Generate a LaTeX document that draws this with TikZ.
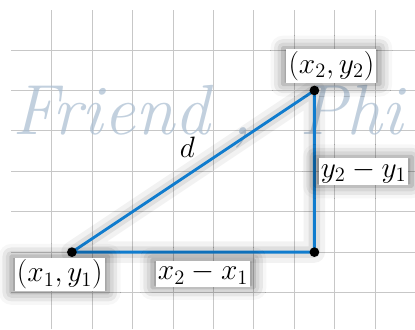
\documentclass[tikz,border=0pt]{standalone}
\usepackage{amsmath,amssymb}
\usepackage{xcolor}
\usepackage{tikz}
\usetikzlibrary{positioning,shadows.blur}
\definecolor{segblue}{RGB}{16,124,206}
\definecolor{wmark}{RGB}{168,188,208}
\tikzset{
  gridline/.style={draw=black!22,line width=0.6pt},
  wmtext/.style={anchor=base west,inner sep=0pt,text=wmark,opacity=0.7,font=\fontsize{50}{54}\selectfont\itshape},
  seg/.style={draw=segblue,line width=2pt,line join=round,
    preaction={draw=black,opacity=0.05,line width=15pt,line join=round},
    preaction={draw=black,opacity=0.08,line width=8pt,line join=round}},
  pt/.style={circle,fill=black,inner sep=0pt,minimum size=0.24cm},
  lab/.style={fill=white,inner sep=1.5pt,font=\fontsize{20}{24}\selectfont,
    blur shadow={shadow xshift=0pt,shadow yshift=0pt,shadow blur radius=8pt,shadow opacity=50,shadow scale=1.08}},
}
\begin{document}
\begin{tikzpicture}
\useasboundingbox (-1.28,-1.91) rectangle (8.99,6.24);
% background grid
\foreach \x in {0,...,8} \draw[gridline] (\x,-1.91) -- (\x,6);
\foreach \y in {-1,...,5} \draw[gridline] (-1,\y) -- (8.99,\y);
\node[wmtext] (wm1) at (-0.98,2.9) {Friend};
\node[wmtext] (wm2) at (4.45,2.9) {,};
\node[wmtext] (wm3) at (6.12,2.9) {Phi};
% triangle
\coordinate (A) at (0.5,0);
\coordinate (C) at (6.5,0);
\coordinate (B) at (6.5,4);
\draw[seg] (A) -- node[lab,below=5pt,xshift=7pt] (dx) {$x_2-x_1$}
  (C) -- node[lab,right=2pt] (dy) {$y_2-y_1$}
  (B) -- node[inner sep=0pt,above=9pt,xshift=-4pt,font=\fontsize{20}{24}\selectfont] (d) {$d$} cycle;
\node[pt] (p1) at (A) {};
\node[pt] (p2) at (B) {};
\node[pt] (p3) at (C) {};
\node[lab,below=0pt of p1,xshift=-0.3cm] (l1) {$(x_1,y_1)$};
\node[lab,above=1.5pt of p2,xshift=0.42cm] (l2) {$(x_2,y_2)$};
\end{tikzpicture}
\end{document}
